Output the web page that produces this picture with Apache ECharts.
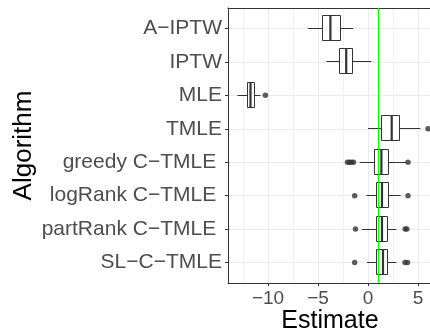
<!DOCTYPE html>
<html>
<head>
<meta charset="utf-8">
<script src="https://cdn.jsdelivr.net/npm/echarts@6/dist/echarts.min.js"></script>
<style>
  html, body { margin: 0; padding: 0; background: #ffffff; }
  #chart { width: 430px; height: 330px; }
</style>
</head>
<body>
<div id="chart"></div>
<script>
// Estimators, listed top to bottom
const categories = ['A−IPTW', 'IPTW', 'MLE', 'TMLE', 'greedy C−TMLE ', 'logRank C−TMLE ', 'partRank C−TMLE ', 'SL−C−TMLE'];

// Five-number summaries of the estimates
const whiskerLow  = [-6.0,  -4.16, -13.05, 0.0,  -0.83, -0.16, -0.6,  -0.1];
const q1          = [-4.6,  -2.82, -12.1,  1.34,  0.67,  0.8,   0.84,  0.84];
const median      = [-3.76, -2.18, -11.75, 2.37,  1.34,  1.4,   1.4,   1.5];
const q3          = [-2.85, -1.5,  -11.4,  3.15,  2.03,  2.0,   1.9,   1.94];
const whiskerHigh = [-1.48,  0.34, -10.76, 5.24,  3.85,  3.27,  2.84,  2.84];

// Points beyond the whiskers
const outliers = [
  [],
  [],
  [-10.26],
  [6.0],
  [-2.05, -1.85, -1.65, -1.45, 4.0],
  [-1.33, 4.0],
  [-1.25, 3.72, 3.88],
  [-1.33, 3.7, 3.95]
];

// True value of the effect
const truth = 1;

// Axis ticks
const majorTicks = [-10, -5, 0, 5];
const minorTicks = [-12.5, -7.5, -2.5, 2.5];
const xMin = -14.0;
const xMax = 6.4;

const FONT = 'Liberation Sans';
const crisp = v => Math.round(v - 0.5) + 0.5;

const boxData = categories.map((c, i) => [i, whiskerLow[i], q1[i], median[i], q3[i], whiskerHigh[i]]);
const outlierData = [];
outliers.forEach((vals, i) => vals.forEach(v => outlierData.push([v, i])));

function renderBox(params, api) {
  const y = api.value(0);
  const half = api.size([0, 1])[1] * 0.375;
  const pLow = api.coord([api.value(1), y]);
  const pQ1 = api.coord([api.value(2), y]);
  const pMed = api.coord([api.value(3), y]);
  const pQ3 = api.coord([api.value(4), y]);
  const pHigh = api.coord([api.value(5), y]);
  const cy = crisp(pMed[1]);
  const stroke = { stroke: '#333333', lineWidth: 1, fill: null };
  return {
    type: 'group',
    children: [
      { type: 'line', shape: { x1: pLow[0], y1: cy, x2: pQ1[0], y2: cy }, style: stroke },
      { type: 'line', shape: { x1: pQ3[0], y1: cy, x2: pHigh[0], y2: cy }, style: stroke },
      { type: 'rect',
        shape: { x: crisp(pQ1[0]), y: crisp(cy - half), width: Math.round(pQ3[0] - pQ1[0]), height: Math.round(2 * half) },
        style: { fill: '#ffffff', stroke: '#333333', lineWidth: 1 } },
      { type: 'line', shape: { x1: pMed[0], y1: cy - half, x2: pMed[0], y2: cy + half },
        style: { stroke: '#333333', lineWidth: 2.2 } }
    ]
  };
}

const chart = echarts.init(document.getElementById('chart'), null, { renderer: 'canvas' });

chart.setOption({
  animation: false,
  backgroundColor: '#ffffff',
  textStyle: { fontFamily: FONT },
  grid: [
    // panel frame, x scale and vertical grid lines
    { left: 228, right: -2, top: 8, bottom: 47, outerBoundsMode: 'none', containLabel: false },
    // category rows, centred on the first and last rows
    { left: 228, right: -2, top: 28.5, bottom: 67.5, outerBoundsMode: 'none', containLabel: false }
  ],
  xAxis: [
    {
      gridIndex: 0, type: 'value', min: xMin, max: xMax, position: 'bottom',
      name: 'Estimate', nameLocation: 'middle', nameGap: 26, nameMoveOverlap: false,
      nameTextStyle: { color: '#000000', fontSize: 25, fontFamily: FONT },
      axisLine: { show: true, onZero: false, lineStyle: { color: '#333333', width: 1 } },
      axisTick: { show: true, length: 3, customValues: majorTicks, lineStyle: { color: '#333333' } },
      axisLabel: { show: true, customValues: majorTicks, margin: 6, color: '#4D4D4D', fontSize: 19, fontFamily: FONT,
                   formatter: v => (v < 0 ? '−' + Math.abs(v) : String(v)) },
      splitLine: { show: true, lineStyle: { color: '#EBEBEB', width: 1 } }
    },
    {
      gridIndex: 0, type: 'value', min: xMin, max: xMax, position: 'bottom',
      axisLine: { show: false, onZero: false }, axisLabel: { show: false },
      axisTick: { show: false, customValues: minorTicks },
      splitLine: { show: true, lineStyle: { color: '#F2F2F2', width: 1 } }
    },
    {
      gridIndex: 0, type: 'value', min: xMin, max: xMax, position: 'top',
      axisLine: { show: true, onZero: false, lineStyle: { color: '#333333', width: 1 } },
      axisTick: { show: false }, axisLabel: { show: false }, splitLine: { show: false }
    },
    {
      gridIndex: 1, type: 'value', min: xMin, max: xMax,
      axisLine: { show: false, onZero: false }, axisTick: { show: false }, axisLabel: { show: false }, splitLine: { show: false }
    }
  ],
  yAxis: [
    {
      gridIndex: 0, type: 'value', min: 0, max: 1,
      name: 'Algorithm', nameLocation: 'middle', nameGap: 191, nameRotate: 90, nameMoveOverlap: false,
      nameTextStyle: { color: '#000000', fontSize: 26, fontFamily: FONT },
      axisLine: { show: true, onZero: false, lineStyle: { color: '#333333', width: 1 } },
      axisTick: { show: false }, axisLabel: { show: false }, splitLine: { show: false }
    },
    {
      gridIndex: 1, type: 'category', data: categories, inverse: true, boundaryGap: false,
      axisLine: { show: false, onZero: false },
      axisTick: { show: true, length: 3, lineStyle: { color: '#333333' } },
      axisLabel: { show: true, margin: 6, color: '#4D4D4D', fontSize: 21, fontFamily: FONT },
      splitLine: { show: true, lineStyle: { color: '#EBEBEB', width: 1 } }
    }
  ],
  series: [
    {
      type: 'custom', name: 'boxes', xAxisIndex: 3, yAxisIndex: 1,
      renderItem: renderBox, data: boxData,
      encode: { x: [1, 2, 3, 4, 5], y: 0 }, z: 2
    },
    {
      type: 'scatter', name: 'outliers', xAxisIndex: 3, yAxisIndex: 1,
      data: outlierData, symbol: 'circle', symbolSize: 5.5,
      itemStyle: { color: '#333333' }, z: 3
    },
    {
      type: 'line', name: 'truth', xAxisIndex: 0, yAxisIndex: 0, data: [],
      markLine: {
        silent: true, symbol: ['none', 'none'], label: { show: false },
        lineStyle: { color: '#00FF00', width: 1, type: 'solid' },
        data: [{ xAxis: truth }]
      },
      z: 6
    }
  ]
});
</script>
</body>
</html>
